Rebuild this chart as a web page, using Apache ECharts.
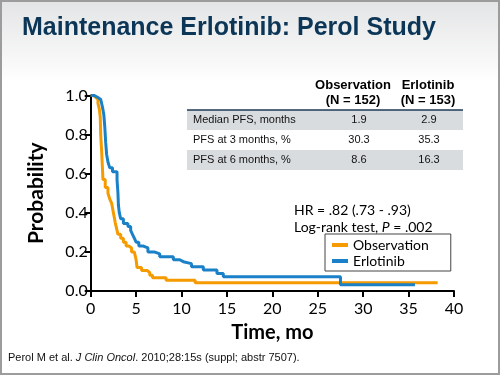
<!DOCTYPE html>
<html lang="en">
<head>
	<meta charset="UTF-8">
	<title>Maintenance Erlotinib: Perol Study</title>
	<style>
	body, div {
		margin: 0;
		padding: 0;
	}
	.echart {
		width: 500px;
		height: 375px;
	}
	</style>
</head>
<body>
	<div id="echart" class="echart"></div>

	<script src="https://cdn.jsdelivr.net/npm/echarts@6/dist/echarts.min.js"></script>
	<script>

	// Kaplan-Meier steps (time in months, probability)
	var obsTime = [0, 0.3, 0.55, 0.8, 0.95, 1.05, 1.1, 1.2, 1.35, 1.6, 1.9, 2.1, 2.3, 2.5, 2.7, 2.9, 3.0, 3.3, 3.6, 3.9, 4.2, 4.5, 4.8, 5.0, 5.1, 5.6, 6.2, 6.5, 6.8, 8.3, 11.5, 38.2];
	var obsSurv = [1.0, 0.99, 0.98, 0.96, 0.93, 0.89, 0.80, 0.72, 0.57, 0.53, 0.50, 0.47, 0.45, 0.40, 0.35, 0.31, 0.29, 0.27, 0.25, 0.23, 0.22, 0.20, 0.19, 0.16, 0.12, 0.105, 0.095, 0.08, 0.068, 0.055, 0.042, 0.042];

	var erlTime = [0, 0.4, 0.8, 1.1, 1.3, 1.45, 1.55, 1.65, 1.75, 1.9, 2.1, 2.4, 2.9, 3.0, 3.05, 3.15, 3.3, 3.6, 4.1, 4.4, 4.6, 4.8, 5.0, 5.3, 5.8, 6.3, 7.0, 7.6, 9.1, 9.8, 10.2, 11.1, 12.4, 13.9, 14.6, 27.5, 35.7];
	var erlSurv = [1.0, 0.99, 0.98, 0.97, 0.94, 0.90, 0.84, 0.76, 0.70, 0.66, 0.63, 0.61, 0.57, 0.50, 0.44, 0.40, 0.37, 0.345, 0.33, 0.31, 0.29, 0.27, 0.25, 0.23, 0.22, 0.20, 0.19, 0.175, 0.16, 0.15, 0.14, 0.124, 0.107, 0.09, 0.073, 0.032, 0.032];

	var seriesNames = ['Observation', 'Erlotinib'];
	var seriesColors = ['#f59b00', '#1a80c8'];

	// summary table
	var tableHead = [['Observation', '(N = 152)'], ['Erlotinib', '(N = 153)']];
	var tableRows = ['Median PFS, months', 'PFS at 3 months, %', 'PFS at 6 months, %'];
	var tableObs = ['1.9', '30.3', '8.6'];
	var tableErl = ['2.9', '35.3', '16.3'];

	var statLines = ['HR = .82 (.73 - .93)', 'Log-rank test, {i|P} = .002'];

	function zip(xs, ys) {
		var out = [];
		for (var i = 0; i < xs.length; i++) {
			out.push([xs[i], ys[i]]);
		}
		return out;
	}

	var fontTick = 'Lato, "Open Sans", sans-serif';
	var fontArial = '"Liberation Sans", Arial, sans-serif';

	// table graphic
	var tableG = [];
	var tLeft = 187, tRight = 463, tTop = 110, rowH = 20;
	tableHead.forEach(function(h, i) {
		var cx = i === 0 ? 353 : 428;
		tableG.push({
			type: 'text', z: 10,
			style: { text: h[0] + '\n' + h[1], x: cx, y: 78, textAlign: 'center',
				font: 'bold 13px ' + fontArial, lineHeight: 15, fill: '#000' }
		});
	});
	tableRows.forEach(function(r, i) {
		var y = tTop + i * rowH;
		if (i % 2 === 0) {
			tableG.push({
				type: 'rect', z: 9,
				shape: { x: tLeft, y: y, width: tRight - tLeft, height: rowH },
				style: { fill: '#d9dcdf' }
			});
		}
		tableG.push({
			type: 'text', z: 10,
			style: { text: r, x: tLeft + 6, y: y + rowH / 2, textVerticalAlign: 'middle',
				font: '11px ' + fontArial, fill: '#111' }
		});
		tableG.push({
			type: 'text', z: 10,
			style: { text: tableObs[i], x: 359, y: y + rowH / 2, textAlign: 'center', textVerticalAlign: 'middle',
				font: '11px ' + fontArial, fill: '#111' }
		});
		tableG.push({
			type: 'text', z: 10,
			style: { text: tableErl[i], x: 429, y: y + rowH / 2, textAlign: 'center', textVerticalAlign: 'middle',
				font: '11px ' + fontArial, fill: '#111' }
		});
	});
	tableG.push({
		type: 'line', z: 11,
		shape: { x1: tLeft, y1: tTop, x2: tRight, y2: tTop },
		style: { stroke: '#1d3a55', lineWidth: 1.5 }
	});

	var option = {
		animation: false,
		textStyle: { fontFamily: fontTick },
		graphic: [
			{
				type: 'rect', z: -10, silent: true,
				shape: { x: 1, y: 1, width: 498, height: 373 },
				style: {
					fill: new echarts.graphic.LinearGradient(0, 0, 0, 1, [
						{ offset: 0, color: '#e3e4e5' },
						{ offset: 0.22, color: '#ffffff' },
						{ offset: 1, color: '#ffffff' }
					]),
					stroke: '#9c9c9c', lineWidth: 2
				}
			},
			{
				type: 'text', z: 10,
				style: { text: 'Maintenance Erlotinib: Perol Study', x: 22, y: 28, textVerticalAlign: 'middle',
					font: 'bold 25px ' + fontArial, fill: '#0c3657' }
			},
			{
				type: 'text', z: 10,
				style: { text: statLines.join('\n'), x: 294, y: 202, lineHeight: 17,
					font: '14px ' + fontTick, fill: '#000',
					rich: { i: { fontStyle: 'italic', fontSize: 14, fontFamily: fontTick } } }
			},
			{
				type: 'text', z: 10,
				style: { text: 'Perol M et al. {i|J Clin Oncol}. 2010;28:15s (suppl; abstr 7507).', x: 8, y: 358,
					textVerticalAlign: 'middle', font: '11px ' + fontArial, fill: '#111',
					rich: { i: { fontStyle: 'italic', fontSize: 11, fontFamily: fontArial } } }
			}
		].concat(tableG),
		legend: {
			orient: 'vertical',
			left: 325,
			top: 234,
			width: 108,
			padding: [4, 22, 3, 7],
			itemGap: 2,
			itemWidth: 16,
			itemHeight: 4,
			icon: 'rect',
			backgroundColor: '#fff',
			borderColor: '#444',
			borderWidth: 1,
			textStyle: { fontSize: 14, color: '#000', fontFamily: fontTick },
			data: seriesNames
		},
		grid: {
			left: 90.7,
			right: 46,
			top: 95.5,
			bottom: 84
		},
		xAxis: {
			type: 'value',
			min: 0,
			max: 40,
			interval: 5,
			name: 'Time, mo',
			nameLocation: 'middle',
			nameGap: 32,
			nameTextStyle: { fontSize: 20, fontWeight: 'bold', color: '#000', fontFamily: fontTick },
			axisLine: { lineStyle: { color: '#000', width: 2 } },
			axisTick: { length: 6, lineStyle: { color: '#000', width: 2 } },
			axisLabel: { fontSize: 16, color: '#000', margin: 10, fontFamily: fontTick },
			splitLine: { show: false }
		},
		yAxis: {
			type: 'value',
			min: 0,
			max: 1,
			interval: 0.2,
			name: 'Probability',
			nameLocation: 'middle',
			nameGap: 44,
			nameTextStyle: { fontSize: 21, fontWeight: 'bold', color: '#000', fontFamily: fontTick },
			axisLine: { show: true, lineStyle: { color: '#000', width: 2 } },
			axisTick: { show: true, length: 6, lineStyle: { color: '#000', width: 2 } },
			axisLabel: { fontSize: 16, color: '#000', margin: 3, fontFamily: fontTick,
				formatter: function(v) { return v.toFixed(1); } },
			splitLine: { show: false }
		},
		series: [
			{
				name: seriesNames[0],
				type: 'line',
				step: 'end',
				symbol: 'none',
				z: 3,
				lineStyle: { width: 3, color: seriesColors[0] },
				itemStyle: { color: seriesColors[0] },
				data: zip(obsTime, obsSurv)
			},
			{
				name: seriesNames[1],
				type: 'line',
				step: 'end',
				symbol: 'none',
				z: 4,
				lineStyle: { width: 3, color: seriesColors[1] },
				itemStyle: { color: seriesColors[1] },
				data: zip(erlTime, erlSurv)
			}
		]
	};

	var myEcharts = echarts.init(document.getElementById('echart'));
	myEcharts.setOption(option);

	</script>
</body>
</html>
